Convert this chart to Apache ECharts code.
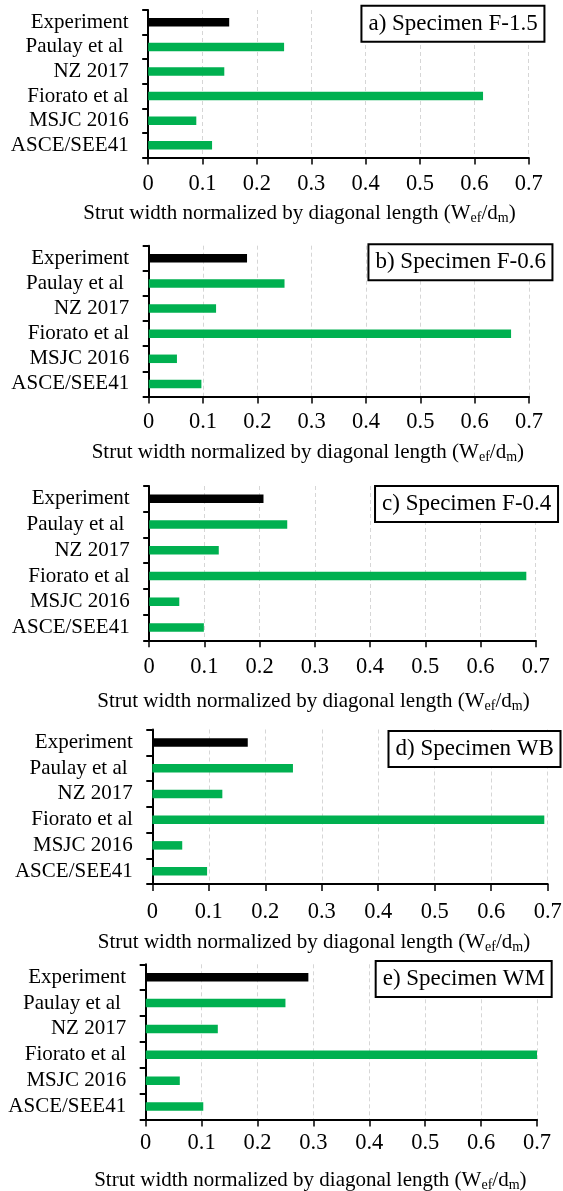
<!DOCTYPE html>
<html>
<head>
<meta charset="utf-8">
<script src="https://cdn.jsdelivr.net/npm/echarts@6/dist/echarts.min.js"></script>
<style>
  html, body { margin: 0; padding: 0; background: #fff; }
  #chart { width: 563px; height: 1191px; }
</style>
</head>
<body>
<div id="chart"></div>
<script>
// Effective strut width models vs. measured value, one panel per specimen
const categories = ['Experiment', 'Paulay et al ', 'NZ 2017', 'Fiorato et al', 'MSJC 2016', 'ASCE/SEE41'];
const panelTitles = ['a) Specimen F-1.5', 'b) Specimen F-0.6', 'c) Specimen F-0.4', 'd) Specimen WB', 'e) Specimen WM'];

const specimenF15 = [0.149, 0.25, 0.14, 0.616, 0.0885, 0.1175];
const specimenF06 = [0.181, 0.25, 0.124, 0.667, 0.052, 0.097];
const specimenF04 = [0.207, 0.25, 0.126, 0.683, 0.0545, 0.099];
const specimenWB  = [0.169, 0.249, 0.124, 0.694, 0.053, 0.097];
const specimenWM  = [0.291, 0.25, 0.129, 0.702, 0.061, 0.103];
const panelValues = [specimenF15, specimenF06, specimenF04, specimenWB, specimenWM];

const xTicks = [0, 0.1, 0.2, 0.3, 0.4, 0.5, 0.6, 0.7];

// Panel placement (pixels)
const layouts = [
  { left: 148.2, right: 528.7, top: 10,    bottom: 157.5,  labelMargin: 15,   nameGap: 44,   nameShift: 39, boxRight: 18.3, boxTop: 5.7 },
  { left: 148.7, right: 529.0, top: 245.7, bottom: 396.5,  labelMargin: 14.5, nameGap: 43.5, nameShift: 31, boxRight: 10,   boxTop: 244.3 },
  { left: 149.2, right: 535.7, top: 486,   bottom: 640.3,  labelMargin: 15.5, nameGap: 49.5, nameShift: 29, boxRight: 4.7,  boxTop: 486 },
  { left: 152.3, right: 547.7, top: 729.5, bottom: 884,    labelMargin: 17,   nameGap: 46,   nameShift: 36, boxRight: 2.1,  boxTop: 731 },
  { left: 145.7, right: 537.0, top: 964.3, bottom: 1119.5, labelMargin: 12,   nameGap: 48.5, nameShift: 31, boxRight: 11.1, boxTop: 961 }
];

const FONT = '"Liberation Serif", "Times New Roman", serif';
const BLACK = '#000000';
const GREEN = '#00B050';

const grids = [], xAxes = [], yAxes = [], series = [], titles = [];

layouts.forEach((L, i) => {
  grids.push({
    left: L.left, top: L.top,
    width: L.right - L.left, height: L.bottom - L.top,
    containLabel: false, outerBoundsMode: 'none'
  });

  xAxes.push({
    type: 'value', gridIndex: i,
    min: xTicks[0], max: xTicks[xTicks.length - 1],
    interval: xTicks[1] - xTicks[0],
    axisLine: { show: true, lineStyle: { color: BLACK, width: 2 } },
    axisTick: { show: true, length: 7, lineStyle: { color: BLACK, width: 1.5 } },
    splitLine: { show: true, lineStyle: { color: '#d6d6d6', width: 1, type: [4, 3] } },
    axisLabel: { color: BLACK, fontFamily: FONT, fontSize: 22.5, margin: L.labelMargin },
    name: '{n|Strut width normalized by diagonal length (W}{s|ef}{n|/d}{s|m}{n|)}',
    nameLocation: 'middle',
    nameGap: L.nameGap,
    nameMoveOverlap: false,
    nameTextStyle: {
      color: BLACK, fontFamily: FONT, fontSize: 21,
      verticalAlign: 'top',
      padding: [0, 2 * L.nameShift, 0, 0],
      rich: {
        n: { color: BLACK, fontFamily: FONT, fontSize: 21, lineHeight: 24 },
        s: { color: BLACK, fontFamily: FONT, fontSize: 14, lineHeight: 11, verticalAlign: 'bottom' }
      }
    }
  });

  yAxes.push({
    type: 'category', gridIndex: i, inverse: true,
    data: categories,
    axisLine: { show: true, lineStyle: { color: BLACK, width: 2 } },
    axisTick: { show: true, interval: 0, length: 6, lineStyle: { color: BLACK, width: 2 } },
    splitLine: { show: false },
    axisLabel: { interval: 0, color: BLACK, fontFamily: FONT, fontSize: 21, margin: 19.5 }
  });

  series.push({
    type: 'bar', xAxisIndex: i, yAxisIndex: i,
    barWidth: 8.5,
    data: panelValues[i].map((v, k) => ({
      value: v,
      itemStyle: { color: k === 0 ? BLACK : GREEN }
    }))
  });

  titles.push({
    text: panelTitles[i],
    right: L.boxRight, top: L.boxTop,
    padding: [5, 7, 5, 7],
    borderColor: BLACK, borderWidth: 2,
    backgroundColor: '#ffffff',
    textStyle: { color: BLACK, fontFamily: FONT, fontSize: 23, fontWeight: 'normal', lineHeight: 26 }
  });
});

const chart = echarts.init(document.getElementById('chart'), null, { renderer: 'canvas' });
chart.setOption({
  backgroundColor: '#ffffff',
  animation: false,
  title: titles,
  grid: grids,
  xAxis: xAxes,
  yAxis: yAxes,
  series: series
});
</script>
</body>
</html>
